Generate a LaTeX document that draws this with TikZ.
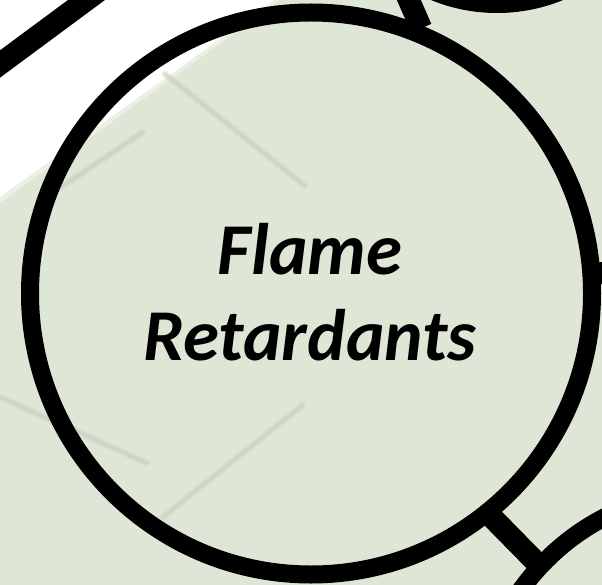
\documentclass[tikz,border=0pt]{standalone}
\usepackage{fontspec}
\setmainfont{Carlito}
\definecolor{bggreen}{RGB}{222,230,214}
\definecolor{shadowgreen}{RGB}{200,208,193}
\begin{document}
\begin{tikzpicture}[x=1pt,y=1pt,
  ring/.style={circle, draw=black, line width=18pt, inner sep=0pt, fill=none},
  link/.style={draw=black, line width=22pt, shorten <=-4pt, shorten >=-4pt},
  ghost/.style={draw=shadowgreen, line width=7pt, line cap=round, opacity=0.35},
  ghostcore/.style={draw=shadowgreen, line width=3.5pt, line cap=round, opacity=0.6},
  title/.style={font=\fontsize{73}{88}\selectfont\bfseries\itshape, inner sep=0pt, anchor=base}]
\useasboundingbox (0,0) rectangle (602,-585);
\clip (0,0) rectangle (602,-585);
\fill[bggreen] (0,0) rectangle (602,-585);
% white band
\fill[white] (0,0) -- (274,0) -- (0,-197) -- cycle;
\fill[white, opacity=0.4] (274,0) -- (280,0) -- (0,-203) -- (0,-197) -- cycle;
% faint shadow lines
\foreach \a/\b in {{(165,-74)}/{(305,-186)}, {(143,-132)}/{(60,-188)}, {(0,-397)}/{(147,-463)}, {(163,-517)}/{(303,-405)}}{
  \draw[ghost] \a -- \b;
  \draw[ghostcore] \a -- \b;
}
% circles
\node[ring, minimum size=562pt] (fr) at (311,-293.5) {};
\node[ring, minimum size=330pt] (tr) at (497,161) {};
\node[ring, minimum size=472pt] (br) at (713,-727) {};
% off-canvas ends
\coordinate (tlA) at (-40.2,-93.75);
\coordinate (tlB) at (128.6,31.2);
\coordinate (rt) at (660,-269);
% connectors
\draw[link] (fr.68.66) -- (tr.237.5);
\draw[link] (fr.-51.65) -- (br.137.8);
\draw[link] (fr.4.8) -- (rt);
\draw[line width=22pt] (tlA) -- (tlB);
% text
\node[title] (l1) at (310,-274) {Flame};
\node[title] (l2) at (310,-360) {Retardants};
\end{tikzpicture}
\end{document}
